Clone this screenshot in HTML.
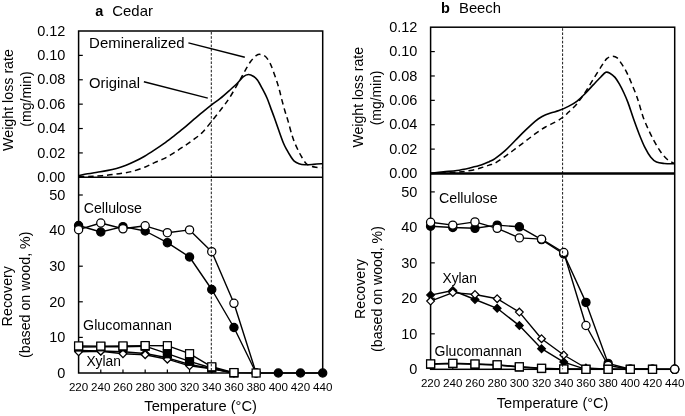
<!DOCTYPE html>
<html><head><meta charset="utf-8"><title>Chart</title>
<style>html,body{margin:0;padding:0;background:#fff;width:685px;height:416px;overflow:hidden;}svg{display:block;font-family:"Liberation Sans",sans-serif;will-change:transform;}</style>
</head><body>
<svg width="685" height="416" viewBox="0 0 685 416" font-family="Liberation Sans, sans-serif" fill="#000">
<rect width="685" height="416" fill="#fff"/>
<text x="95.3" y="16.3" font-size="14.5" text-anchor="start" font-weight="bold">a</text>
<text x="112.3" y="16.3" font-size="14.5" text-anchor="start" textLength="40.6" lengthAdjust="spacingAndGlyphs">Cedar</text>
<rect x="78.6" y="31" width="244.1" height="342" fill="none" stroke="#000" stroke-width="1.5"/>
<line x1="78.6" y1="152.92" x2="82.8" y2="152.92" stroke="#000" stroke-width="1.2"/>
<line x1="78.6" y1="128.53" x2="82.8" y2="128.53" stroke="#000" stroke-width="1.2"/>
<line x1="78.6" y1="104.15" x2="82.8" y2="104.15" stroke="#000" stroke-width="1.2"/>
<line x1="78.6" y1="79.77" x2="82.8" y2="79.77" stroke="#000" stroke-width="1.2"/>
<line x1="78.6" y1="55.38" x2="82.8" y2="55.38" stroke="#000" stroke-width="1.2"/>
<line x1="78.6" y1="337.4" x2="82.8" y2="337.4" stroke="#000" stroke-width="1.2"/>
<line x1="78.6" y1="301.8" x2="82.8" y2="301.8" stroke="#000" stroke-width="1.2"/>
<line x1="78.6" y1="266.2" x2="82.8" y2="266.2" stroke="#000" stroke-width="1.2"/>
<line x1="78.6" y1="230.6" x2="82.8" y2="230.6" stroke="#000" stroke-width="1.2"/>
<line x1="78.6" y1="195" x2="82.8" y2="195" stroke="#000" stroke-width="1.2"/>
<line x1="100.79" y1="373" x2="100.79" y2="369.4" stroke="#000" stroke-width="1.2"/>
<line x1="122.98" y1="373" x2="122.98" y2="369.4" stroke="#000" stroke-width="1.2"/>
<line x1="145.17" y1="373" x2="145.17" y2="369.4" stroke="#000" stroke-width="1.2"/>
<line x1="167.36" y1="373" x2="167.36" y2="369.4" stroke="#000" stroke-width="1.2"/>
<line x1="189.55" y1="373" x2="189.55" y2="369.4" stroke="#000" stroke-width="1.2"/>
<line x1="211.75" y1="373" x2="211.75" y2="369.4" stroke="#000" stroke-width="1.2"/>
<line x1="233.94" y1="373" x2="233.94" y2="369.4" stroke="#000" stroke-width="1.2"/>
<line x1="256.13" y1="373" x2="256.13" y2="369.4" stroke="#000" stroke-width="1.2"/>
<line x1="278.32" y1="373" x2="278.32" y2="369.4" stroke="#000" stroke-width="1.2"/>
<line x1="300.51" y1="373" x2="300.51" y2="369.4" stroke="#000" stroke-width="1.2"/>
<line x1="78.6" y1="177.3" x2="322.7" y2="177.3" stroke="#000" stroke-width="1.6"/>
<text x="65.4" y="182" font-size="14.5" text-anchor="end">0.00</text>
<text x="65.4" y="157.62" font-size="14.5" text-anchor="end">0.02</text>
<text x="65.4" y="133.23" font-size="14.5" text-anchor="end">0.04</text>
<text x="65.4" y="108.85" font-size="14.5" text-anchor="end">0.06</text>
<text x="65.4" y="84.47" font-size="14.5" text-anchor="end">0.08</text>
<text x="65.4" y="60.08" font-size="14.5" text-anchor="end">0.10</text>
<text x="65.4" y="35.7" font-size="14.5" text-anchor="end">0.12</text>
<text x="65.4" y="377.7" font-size="14.5" text-anchor="end">0</text>
<text x="65.4" y="342.1" font-size="14.5" text-anchor="end">10</text>
<text x="65.4" y="306.5" font-size="14.5" text-anchor="end">20</text>
<text x="65.4" y="270.9" font-size="14.5" text-anchor="end">30</text>
<text x="65.4" y="235.3" font-size="14.5" text-anchor="end">40</text>
<text x="65.4" y="199.7" font-size="14.5" text-anchor="end">50</text>
<text x="78.6" y="391" font-size="11.6" text-anchor="middle">220</text>
<text x="100.79" y="391" font-size="11.6" text-anchor="middle">240</text>
<text x="122.98" y="391" font-size="11.6" text-anchor="middle">260</text>
<text x="145.17" y="391" font-size="11.6" text-anchor="middle">280</text>
<text x="167.36" y="391" font-size="11.6" text-anchor="middle">300</text>
<text x="189.55" y="391" font-size="11.6" text-anchor="middle">320</text>
<text x="211.75" y="391" font-size="11.6" text-anchor="middle">340</text>
<text x="233.94" y="391" font-size="11.6" text-anchor="middle">360</text>
<text x="256.13" y="391" font-size="11.6" text-anchor="middle">380</text>
<text x="278.32" y="391" font-size="11.6" text-anchor="middle">400</text>
<text x="300.51" y="391" font-size="11.6" text-anchor="middle">420</text>
<text x="322.7" y="391" font-size="11.6" text-anchor="middle">440</text>
<text x="200.65" y="410.9" font-size="14" text-anchor="middle" textLength="112.6" lengthAdjust="spacingAndGlyphs">Temperature (°C)</text>
<text transform="translate(13.0 100.0) rotate(-90)" font-size="14" text-anchor="middle" textLength="101.8" lengthAdjust="spacingAndGlyphs">Weight loss rate</text>
<text transform="translate(30.6 99.0) rotate(-90)" font-size="14" text-anchor="middle" textLength="55.3" lengthAdjust="spacingAndGlyphs">(mg/min)</text>
<text transform="translate(12.3 296.2) rotate(-90)" font-size="14" text-anchor="middle" textLength="60.4" lengthAdjust="spacingAndGlyphs">Recovery</text>
<text transform="translate(29.5 294.8) rotate(-90)" font-size="14" text-anchor="middle" textLength="126.4" lengthAdjust="spacingAndGlyphs">(based on wood, %)</text>
<path d="M78.6 176.3C80.1 176.33 84.98 176.5 87.6 176.5C90.22 176.5 91.73 176.45 94.3 176.3C96.87 176.15 99.95 175.88 103 175.6C106.05 175.32 109.4 175 112.6 174.6C115.8 174.2 119 173.72 122.2 173.2C125.4 172.68 127.95 172.53 131.8 171.5C135.65 170.47 141.52 168.48 145.3 167C149.08 165.52 151.38 164 154.5 162.6C157.62 161.2 160.83 160.18 164 158.6C167.17 157.02 170.32 155.05 173.5 153.1C176.68 151.15 179.9 149.05 183.1 146.9C186.3 144.75 189.5 142.6 192.7 140.2C195.9 137.8 199.1 135.7 202.3 132.5C205.5 129.3 208.63 125.03 211.9 121C215.17 116.97 218.95 112.18 221.9 108.3C224.85 104.42 226.72 102.2 229.6 97.7C232.48 93.2 236.63 85.78 239.2 81.3C241.77 76.82 243.07 74.15 245 70.8C246.93 67.45 248.88 63.77 250.8 61.2C252.72 58.63 254.9 56.53 256.5 55.4C258.1 54.27 258.95 54.25 260.4 54.4C261.85 54.55 263.6 54.85 265.2 56.3C266.8 57.75 268.57 60.37 270 63.1C271.43 65.83 272.6 69.47 273.8 72.7C275 75.93 276.23 79.48 277.2 82.5C278.17 85.52 278.8 87.82 279.6 90.8C280.4 93.78 281.1 96.98 282 100.4C282.9 103.82 284 107.88 285 111.3C286 114.72 286.87 117.02 288 120.9C289.13 124.78 290.67 130.92 291.8 134.6C292.93 138.28 293.7 140.3 294.8 143C295.9 145.7 297.2 148.38 298.4 150.8C299.6 153.22 300.8 155.48 302 157.5C303.2 159.52 304.28 161.5 305.6 162.9C306.92 164.3 308.18 165.17 309.9 165.9C311.62 166.63 313.77 167 315.9 167.3C318.03 167.6 321.57 167.63 322.7 167.7" fill="none" stroke="#000" stroke-width="1.5" stroke-dasharray="5.6 3.9"/>
<path d="M78.6 175.6C80.1 175.3 84.5 174.37 87.6 173.8C90.7 173.23 94 172.73 97.2 172.2C100.4 171.67 103.58 171.23 106.8 170.6C110.02 169.97 113.28 169.3 116.5 168.4C119.72 167.5 123.02 166.38 126.1 165.2C129.18 164.02 131.92 162.8 135 161.3C138.08 159.8 141.4 158.05 144.6 156.2C147.8 154.35 151 152.28 154.2 150.2C157.4 148.12 160.58 146.02 163.8 143.7C167.02 141.38 170.28 138.8 173.5 136.3C176.72 133.8 179.9 131.35 183.1 128.7C186.3 126.05 189.5 123.13 192.7 120.4C195.9 117.67 199.1 114.93 202.3 112.3C205.5 109.67 208.95 106.87 211.9 104.6C214.85 102.33 217.05 101.07 220 98.7C222.95 96.33 226.72 92.97 229.6 90.4C232.48 87.83 235.05 85.55 237.3 83.3C239.55 81.05 241.23 78.37 243.1 76.9C244.97 75.43 246.73 74.57 248.5 74.5C250.27 74.43 252.22 75.58 253.7 76.5C255.18 77.42 255.98 78.02 257.4 80C258.82 81.98 260.6 85.4 262.2 88.4C263.8 91.4 265.6 94.8 267 98C268.4 101.2 269.4 104.38 270.6 107.6C271.8 110.82 272.9 113.68 274.2 117.3C275.5 120.92 276.87 125.02 278.4 129.3C279.93 133.58 281.97 139.52 283.4 143C284.83 146.48 285.8 147.98 287 150.2C288.2 152.42 289.4 154.48 290.6 156.3C291.8 158.12 292.8 159.87 294.2 161.1C295.6 162.33 297.2 163.1 299 163.7C300.8 164.3 302.58 164.58 305 164.7C307.42 164.82 310.55 164.57 313.5 164.4C316.45 164.23 321.17 163.82 322.7 163.7" fill="none" stroke="#000" stroke-width="1.6"/>
<line x1="188.4" y1="42.9" x2="244.8" y2="57.2" stroke="#000" stroke-width="1.4"/>
<line x1="143.9" y1="81.7" x2="207.8" y2="98.1" stroke="#000" stroke-width="1.4"/>
<text x="89.1" y="47.9" font-size="14" text-anchor="start" textLength="95.6" lengthAdjust="spacingAndGlyphs">Demineralized</text>
<text x="89.1" y="88.3" font-size="14" text-anchor="start" textLength="51" lengthAdjust="spacingAndGlyphs">Original</text>
<polyline points="78.6,350.5 100.79,351 122.98,351.8 145.17,353.5 167.36,357.8 189.55,364.5 211.75,368.5 233.94,373" fill="none" stroke="#000" stroke-width="1.4" stroke-linejoin="round"/>
<polygon points="78.6,346.65 82.45,350.5 78.6,354.35 74.75,350.5" fill="#000" stroke="#000" stroke-width="1.25" stroke-linejoin="miter"/>
<polygon points="100.79,347.15 104.64,351 100.79,354.85 96.94,351" fill="#000" stroke="#000" stroke-width="1.25" stroke-linejoin="miter"/>
<polygon points="122.98,347.95 126.83,351.8 122.98,355.65 119.13,351.8" fill="#000" stroke="#000" stroke-width="1.25" stroke-linejoin="miter"/>
<polygon points="145.17,349.65 149.02,353.5 145.17,357.35 141.32,353.5" fill="#000" stroke="#000" stroke-width="1.25" stroke-linejoin="miter"/>
<polygon points="167.36,353.95 171.21,357.8 167.36,361.65 163.51,357.8" fill="#000" stroke="#000" stroke-width="1.25" stroke-linejoin="miter"/>
<polygon points="189.55,360.65 193.4,364.5 189.55,368.35 185.7,364.5" fill="#000" stroke="#000" stroke-width="1.25" stroke-linejoin="miter"/>
<polygon points="211.75,364.65 215.6,368.5 211.75,372.35 207.9,368.5" fill="#000" stroke="#000" stroke-width="1.25" stroke-linejoin="miter"/>
<polygon points="233.94,369.15 237.79,373 233.94,376.85 230.09,373" fill="#000" stroke="#000" stroke-width="1.25" stroke-linejoin="miter"/>
<polyline points="78.6,351.8 100.79,351.2 122.98,353.75 145.17,354.7 167.36,359.2 189.55,365.8 211.75,368.8 233.94,373" fill="none" stroke="#000" stroke-width="1.4" stroke-linejoin="round"/>
<polygon points="78.6,347.95 82.45,351.8 78.6,355.65 74.75,351.8" fill="#fff" stroke="#000" stroke-width="1.25" stroke-linejoin="miter"/>
<polygon points="100.79,347.35 104.64,351.2 100.79,355.05 96.94,351.2" fill="#fff" stroke="#000" stroke-width="1.25" stroke-linejoin="miter"/>
<polygon points="122.98,349.9 126.83,353.75 122.98,357.6 119.13,353.75" fill="#fff" stroke="#000" stroke-width="1.25" stroke-linejoin="miter"/>
<polygon points="145.17,350.85 149.02,354.7 145.17,358.55 141.32,354.7" fill="#fff" stroke="#000" stroke-width="1.25" stroke-linejoin="miter"/>
<polygon points="167.36,355.35 171.21,359.2 167.36,363.05 163.51,359.2" fill="#fff" stroke="#000" stroke-width="1.25" stroke-linejoin="miter"/>
<polygon points="189.55,361.95 193.4,365.8 189.55,369.65 185.7,365.8" fill="#fff" stroke="#000" stroke-width="1.25" stroke-linejoin="miter"/>
<polygon points="211.75,364.95 215.6,368.8 211.75,372.65 207.9,368.8" fill="#fff" stroke="#000" stroke-width="1.25" stroke-linejoin="miter"/>
<polygon points="233.94,369.15 237.79,373 233.94,376.85 230.09,373" fill="#fff" stroke="#000" stroke-width="1.25" stroke-linejoin="miter"/>
<polyline points="78.6,225.5 100.79,232 122.98,226.6 145.17,231 167.36,242.7 189.55,257 211.75,289.5 233.94,327.5 256.13,373 278.32,373 300.51,373 322.7,373" fill="none" stroke="#000" stroke-width="1.4" stroke-linejoin="round"/>
<polyline points="78.6,229.7 100.79,223 122.98,228.8 145.17,225.8 167.36,232.7 189.55,229.9 211.75,251.7 233.94,303.3 256.13,373" fill="none" stroke="#000" stroke-width="1.4" stroke-linejoin="round"/>
<circle cx="78.6" cy="225.5" r="4.1" fill="#000" stroke="#000" stroke-width="1.25"/>
<circle cx="100.79" cy="232" r="4.1" fill="#000" stroke="#000" stroke-width="1.25"/>
<circle cx="122.98" cy="226.6" r="4.1" fill="#000" stroke="#000" stroke-width="1.25"/>
<circle cx="145.17" cy="231" r="4.1" fill="#000" stroke="#000" stroke-width="1.25"/>
<circle cx="167.36" cy="242.7" r="4.1" fill="#000" stroke="#000" stroke-width="1.25"/>
<circle cx="189.55" cy="257" r="4.1" fill="#000" stroke="#000" stroke-width="1.25"/>
<circle cx="211.75" cy="289.5" r="4.1" fill="#000" stroke="#000" stroke-width="1.25"/>
<circle cx="233.94" cy="327.5" r="4.1" fill="#000" stroke="#000" stroke-width="1.25"/>
<circle cx="256.13" cy="373" r="4.1" fill="#000" stroke="#000" stroke-width="1.25"/>
<circle cx="278.32" cy="373" r="4.1" fill="#000" stroke="#000" stroke-width="1.25"/>
<circle cx="300.51" cy="373" r="4.1" fill="#000" stroke="#000" stroke-width="1.25"/>
<circle cx="322.7" cy="373" r="4.1" fill="#000" stroke="#000" stroke-width="1.25"/>
<circle cx="78.6" cy="229.7" r="4.1" fill="#fff" stroke="#000" stroke-width="1.25"/>
<circle cx="100.79" cy="223" r="4.1" fill="#fff" stroke="#000" stroke-width="1.25"/>
<circle cx="122.98" cy="228.8" r="4.1" fill="#fff" stroke="#000" stroke-width="1.25"/>
<circle cx="145.17" cy="225.8" r="4.1" fill="#fff" stroke="#000" stroke-width="1.25"/>
<circle cx="167.36" cy="232.7" r="4.1" fill="#fff" stroke="#000" stroke-width="1.25"/>
<circle cx="189.55" cy="229.9" r="4.1" fill="#fff" stroke="#000" stroke-width="1.25"/>
<circle cx="211.75" cy="251.7" r="4.1" fill="#fff" stroke="#000" stroke-width="1.25"/>
<circle cx="233.94" cy="303.3" r="4.1" fill="#fff" stroke="#000" stroke-width="1.25"/>
<circle cx="256.13" cy="373" r="4.1" fill="#fff" stroke="#000" stroke-width="1.25"/>
<polyline points="78.6,347 100.79,346.8 122.98,346.8 145.17,346.2 167.36,353.7 189.55,361.3 211.75,368 233.94,373" fill="none" stroke="#000" stroke-width="1.4" stroke-linejoin="round"/>
<rect x="74.6" y="343" width="8" height="8" fill="#000" stroke="#000" stroke-width="1.25"/>
<rect x="96.79" y="342.8" width="8" height="8" fill="#000" stroke="#000" stroke-width="1.25"/>
<rect x="118.98" y="342.8" width="8" height="8" fill="#000" stroke="#000" stroke-width="1.25"/>
<rect x="141.17" y="342.2" width="8" height="8" fill="#000" stroke="#000" stroke-width="1.25"/>
<rect x="163.36" y="349.7" width="8" height="8" fill="#000" stroke="#000" stroke-width="1.25"/>
<rect x="185.55" y="357.3" width="8" height="8" fill="#000" stroke="#000" stroke-width="1.25"/>
<rect x="207.75" y="364" width="8" height="8" fill="#000" stroke="#000" stroke-width="1.25"/>
<rect x="229.94" y="369" width="8" height="8" fill="#000" stroke="#000" stroke-width="1.25"/>
<polyline points="78.6,345.9 100.79,346.1 122.98,345.9 145.17,345.6 167.36,345.7 189.55,353.7 211.75,366.8 233.94,372.6 256.13,373" fill="none" stroke="#000" stroke-width="1.4" stroke-linejoin="round"/>
<rect x="74.6" y="341.9" width="8" height="8" fill="#fff" stroke="#000" stroke-width="1.25"/>
<rect x="96.79" y="342.1" width="8" height="8" fill="#fff" stroke="#000" stroke-width="1.25"/>
<rect x="118.98" y="341.9" width="8" height="8" fill="#fff" stroke="#000" stroke-width="1.25"/>
<rect x="141.17" y="341.6" width="8" height="8" fill="#fff" stroke="#000" stroke-width="1.25"/>
<rect x="163.36" y="341.7" width="8" height="8" fill="#fff" stroke="#000" stroke-width="1.25"/>
<rect x="185.55" y="349.7" width="8" height="8" fill="#fff" stroke="#000" stroke-width="1.25"/>
<rect x="207.75" y="362.8" width="8" height="8" fill="#fff" stroke="#000" stroke-width="1.25"/>
<rect x="229.94" y="368.6" width="8" height="8" fill="#fff" stroke="#000" stroke-width="1.25"/>
<rect x="252.13" y="369" width="8" height="8" fill="#fff" stroke="#000" stroke-width="1.25"/>
<text x="83.8" y="213.2" font-size="14" text-anchor="start" textLength="58.1" lengthAdjust="spacingAndGlyphs">Cellulose</text>
<text x="83.1" y="329.8" font-size="14" text-anchor="start" textLength="88.8" lengthAdjust="spacingAndGlyphs">Glucomannan</text>
<text x="86.4" y="366.2" font-size="14" text-anchor="start" textLength="34.6" lengthAdjust="spacingAndGlyphs">Xylan</text>
<text x="441" y="12.9" font-size="14.5" text-anchor="start" font-weight="bold">b</text>
<text x="459" y="12.9" font-size="14.5" text-anchor="start" textLength="42" lengthAdjust="spacingAndGlyphs">Beech</text>
<rect x="430.6" y="27.2" width="244.1" height="342.1" fill="none" stroke="#000" stroke-width="1.5"/>
<line x1="430.6" y1="149.12" x2="434.8" y2="149.12" stroke="#000" stroke-width="1.2"/>
<line x1="430.6" y1="124.73" x2="434.8" y2="124.73" stroke="#000" stroke-width="1.2"/>
<line x1="430.6" y1="100.35" x2="434.8" y2="100.35" stroke="#000" stroke-width="1.2"/>
<line x1="430.6" y1="75.97" x2="434.8" y2="75.97" stroke="#000" stroke-width="1.2"/>
<line x1="430.6" y1="51.58" x2="434.8" y2="51.58" stroke="#000" stroke-width="1.2"/>
<line x1="430.6" y1="333.82" x2="434.8" y2="333.82" stroke="#000" stroke-width="1.2"/>
<line x1="430.6" y1="298.34" x2="434.8" y2="298.34" stroke="#000" stroke-width="1.2"/>
<line x1="430.6" y1="262.86" x2="434.8" y2="262.86" stroke="#000" stroke-width="1.2"/>
<line x1="430.6" y1="227.38" x2="434.8" y2="227.38" stroke="#000" stroke-width="1.2"/>
<line x1="430.6" y1="191.9" x2="434.8" y2="191.9" stroke="#000" stroke-width="1.2"/>
<line x1="452.79" y1="369.3" x2="452.79" y2="365.7" stroke="#000" stroke-width="1.2"/>
<line x1="474.98" y1="369.3" x2="474.98" y2="365.7" stroke="#000" stroke-width="1.2"/>
<line x1="497.17" y1="369.3" x2="497.17" y2="365.7" stroke="#000" stroke-width="1.2"/>
<line x1="519.36" y1="369.3" x2="519.36" y2="365.7" stroke="#000" stroke-width="1.2"/>
<line x1="541.55" y1="369.3" x2="541.55" y2="365.7" stroke="#000" stroke-width="1.2"/>
<line x1="563.75" y1="369.3" x2="563.75" y2="365.7" stroke="#000" stroke-width="1.2"/>
<line x1="585.94" y1="369.3" x2="585.94" y2="365.7" stroke="#000" stroke-width="1.2"/>
<line x1="608.13" y1="369.3" x2="608.13" y2="365.7" stroke="#000" stroke-width="1.2"/>
<line x1="630.32" y1="369.3" x2="630.32" y2="365.7" stroke="#000" stroke-width="1.2"/>
<line x1="652.51" y1="369.3" x2="652.51" y2="365.7" stroke="#000" stroke-width="1.2"/>
<line x1="430.6" y1="173.5" x2="674.7" y2="173.5" stroke="#000" stroke-width="2.4"/>
<text x="417.4" y="178.2" font-size="14.5" text-anchor="end">0.00</text>
<text x="417.4" y="153.82" font-size="14.5" text-anchor="end">0.02</text>
<text x="417.4" y="129.43" font-size="14.5" text-anchor="end">0.04</text>
<text x="417.4" y="105.05" font-size="14.5" text-anchor="end">0.06</text>
<text x="417.4" y="80.67" font-size="14.5" text-anchor="end">0.08</text>
<text x="417.4" y="56.28" font-size="14.5" text-anchor="end">0.10</text>
<text x="417.4" y="31.9" font-size="14.5" text-anchor="end">0.12</text>
<text x="417.4" y="374" font-size="14.5" text-anchor="end">0</text>
<text x="417.4" y="338.52" font-size="14.5" text-anchor="end">10</text>
<text x="417.4" y="303.04" font-size="14.5" text-anchor="end">20</text>
<text x="417.4" y="267.56" font-size="14.5" text-anchor="end">30</text>
<text x="417.4" y="232.08" font-size="14.5" text-anchor="end">40</text>
<text x="417.4" y="196.6" font-size="14.5" text-anchor="end">50</text>
<text x="430.6" y="387.1" font-size="11.6" text-anchor="middle">220</text>
<text x="452.79" y="387.1" font-size="11.6" text-anchor="middle">240</text>
<text x="474.98" y="387.1" font-size="11.6" text-anchor="middle">260</text>
<text x="497.17" y="387.1" font-size="11.6" text-anchor="middle">280</text>
<text x="519.36" y="387.1" font-size="11.6" text-anchor="middle">300</text>
<text x="541.55" y="387.1" font-size="11.6" text-anchor="middle">320</text>
<text x="563.75" y="387.1" font-size="11.6" text-anchor="middle">340</text>
<text x="585.94" y="387.1" font-size="11.6" text-anchor="middle">360</text>
<text x="608.13" y="387.1" font-size="11.6" text-anchor="middle">380</text>
<text x="630.32" y="387.1" font-size="11.6" text-anchor="middle">400</text>
<text x="652.51" y="387.1" font-size="11.6" text-anchor="middle">420</text>
<text x="674.7" y="387.1" font-size="11.6" text-anchor="middle">440</text>
<text x="552.65" y="408" font-size="14" text-anchor="middle" textLength="111.6" lengthAdjust="spacingAndGlyphs">Temperature (°C)</text>
<text transform="translate(362.7 97.2) rotate(-90)" font-size="14" text-anchor="middle" textLength="100.5" lengthAdjust="spacingAndGlyphs">Weight loss rate</text>
<text transform="translate(381.3 97.9) rotate(-90)" font-size="14" text-anchor="middle" textLength="54.8" lengthAdjust="spacingAndGlyphs">(mg/min)</text>
<text transform="translate(364.9 289.0) rotate(-90)" font-size="14" text-anchor="middle" textLength="60.0" lengthAdjust="spacingAndGlyphs">Recovery</text>
<text transform="translate(382.4 289.0) rotate(-90)" font-size="14" text-anchor="middle" textLength="125.8" lengthAdjust="spacingAndGlyphs">(based on wood, %)</text>
<path d="M430.6 173.4C434.98 173.2 450.27 172.68 456.9 172.2C463.53 171.72 466.37 171.23 470.4 170.5C474.43 169.77 477.97 168.7 481.1 167.8C484.23 166.9 486.88 165.87 489.2 165.1C491.52 164.33 492.35 164.65 495 163.2C497.65 161.75 501.73 158.78 505.1 156.4C508.47 154.02 511.83 151.42 515.2 148.9C518.57 146.38 521.93 143.83 525.3 141.3C528.67 138.77 532.03 136.08 535.4 133.7C538.77 131.32 542.13 128.97 545.5 127C548.87 125.03 552.63 123.58 555.6 121.9C558.57 120.22 561.17 118.5 563.3 116.9C565.43 115.3 566.15 114.47 568.4 112.3C570.65 110.13 573.98 107.27 576.8 103.9C579.62 100.53 582.48 96.32 585.3 92.1C588.12 87.88 590.9 83.08 593.7 78.6C596.5 74.12 599.87 68.57 602.1 65.2C604.33 61.83 605.4 59.88 607.1 58.4C608.8 56.92 610.62 56.38 612.3 56.3C613.98 56.22 615.67 56.67 617.2 57.9C618.73 59.13 620.18 61.78 621.5 63.7C622.82 65.62 623.9 67.25 625.1 69.4C626.3 71.55 627.5 73.95 628.7 76.6C629.9 79.25 631.1 82.4 632.3 85.3C633.5 88.2 634.82 91.12 635.9 94C636.98 96.88 637.6 98.78 638.8 102.6C640 106.42 641.43 112.27 643.1 116.9C644.77 121.53 646.88 126.23 648.8 130.4C650.72 134.57 652.67 138.38 654.6 141.9C656.53 145.42 658.32 148.62 660.4 151.5C662.48 154.38 664.72 157.17 667.1 159.2C669.48 161.23 673.43 162.95 674.7 163.7" fill="none" stroke="#000" stroke-width="1.5" stroke-dasharray="5.6 3.9"/>
<path d="M430.6 173.2C432.75 172.97 439.12 172.25 443.5 171.8C447.88 171.35 452.42 171.17 456.9 170.5C461.38 169.83 466.37 168.7 470.4 167.8C474.43 166.9 477.97 166.12 481.1 165.1C484.23 164.08 486.88 162.78 489.2 161.7C491.52 160.62 492.35 160.45 495 158.6C497.65 156.75 501.73 153.62 505.1 150.6C508.47 147.58 511.83 143.87 515.2 140.5C518.57 137.13 521.93 133.63 525.3 130.4C528.67 127.17 532.6 123.42 535.4 121.1C538.2 118.78 539.57 117.85 542.1 116.5C544.63 115.15 547.78 113.98 550.6 113C553.42 112.02 556.03 111.7 559 110.6C561.97 109.5 565.43 107.95 568.4 106.4C571.37 104.85 573.98 103.47 576.8 101.3C579.62 99.13 582.48 96.22 585.3 93.4C588.12 90.58 591.15 87.1 593.7 84.4C596.25 81.7 598.58 79.22 600.6 77.2C602.62 75.18 604.25 72.97 605.8 72.3C607.35 71.63 608.37 72.35 609.9 73.2C611.43 74.05 613.43 75.62 615 77.4C616.57 79.18 617.85 81.38 619.3 83.9C620.75 86.42 622.25 89.38 623.7 92.5C625.15 95.62 626.37 98.22 628 102.6C629.63 106.98 631.63 113.53 633.5 118.8C635.37 124.07 637.28 129.38 639.2 134.2C641.12 139.02 643.07 143.85 645 147.7C646.93 151.55 648.88 154.9 650.8 157.3C652.72 159.7 654.27 161.07 656.5 162.1C658.73 163.13 661.17 163.23 664.2 163.5C667.23 163.77 672.95 163.67 674.7 163.7" fill="none" stroke="#000" stroke-width="1.6"/>
<polyline points="430.6,295.1 452.79,290.5 474.98,299.5 497.17,308.3 519.36,325.6 541.55,348.7 563.75,362.1 585.94,369.3 608.13,369.3" fill="none" stroke="#000" stroke-width="1.4" stroke-linejoin="round"/>
<polygon points="430.6,291.25 434.45,295.1 430.6,298.95 426.75,295.1" fill="#000" stroke="#000" stroke-width="1.25" stroke-linejoin="miter"/>
<polygon points="452.79,286.65 456.64,290.5 452.79,294.35 448.94,290.5" fill="#000" stroke="#000" stroke-width="1.25" stroke-linejoin="miter"/>
<polygon points="474.98,295.65 478.83,299.5 474.98,303.35 471.13,299.5" fill="#000" stroke="#000" stroke-width="1.25" stroke-linejoin="miter"/>
<polygon points="497.17,304.45 501.02,308.3 497.17,312.15 493.32,308.3" fill="#000" stroke="#000" stroke-width="1.25" stroke-linejoin="miter"/>
<polygon points="519.36,321.75 523.21,325.6 519.36,329.45 515.51,325.6" fill="#000" stroke="#000" stroke-width="1.25" stroke-linejoin="miter"/>
<polygon points="541.55,344.85 545.4,348.7 541.55,352.55 537.7,348.7" fill="#000" stroke="#000" stroke-width="1.25" stroke-linejoin="miter"/>
<polygon points="563.75,358.25 567.6,362.1 563.75,365.95 559.9,362.1" fill="#000" stroke="#000" stroke-width="1.25" stroke-linejoin="miter"/>
<polygon points="585.94,365.45 589.79,369.3 585.94,373.15 582.09,369.3" fill="#000" stroke="#000" stroke-width="1.25" stroke-linejoin="miter"/>
<polygon points="608.13,365.45 611.98,369.3 608.13,373.15 604.28,369.3" fill="#000" stroke="#000" stroke-width="1.25" stroke-linejoin="miter"/>
<polyline points="430.6,301.1 452.79,292.6 474.98,294.5 497.17,298.7 519.36,312.1 541.55,338.7 563.75,355 585.94,368 608.13,369.3" fill="none" stroke="#000" stroke-width="1.4" stroke-linejoin="round"/>
<polygon points="430.6,297.25 434.45,301.1 430.6,304.95 426.75,301.1" fill="#fff" stroke="#000" stroke-width="1.25" stroke-linejoin="miter"/>
<polygon points="452.79,288.75 456.64,292.6 452.79,296.45 448.94,292.6" fill="#fff" stroke="#000" stroke-width="1.25" stroke-linejoin="miter"/>
<polygon points="474.98,290.65 478.83,294.5 474.98,298.35 471.13,294.5" fill="#fff" stroke="#000" stroke-width="1.25" stroke-linejoin="miter"/>
<polygon points="497.17,294.85 501.02,298.7 497.17,302.55 493.32,298.7" fill="#fff" stroke="#000" stroke-width="1.25" stroke-linejoin="miter"/>
<polygon points="519.36,308.25 523.21,312.1 519.36,315.95 515.51,312.1" fill="#fff" stroke="#000" stroke-width="1.25" stroke-linejoin="miter"/>
<polygon points="541.55,334.85 545.4,338.7 541.55,342.55 537.7,338.7" fill="#fff" stroke="#000" stroke-width="1.25" stroke-linejoin="miter"/>
<polygon points="563.75,351.15 567.6,355 563.75,358.85 559.9,355" fill="#fff" stroke="#000" stroke-width="1.25" stroke-linejoin="miter"/>
<polygon points="585.94,364.15 589.79,368 585.94,371.85 582.09,368" fill="#fff" stroke="#000" stroke-width="1.25" stroke-linejoin="miter"/>
<polygon points="608.13,365.45 611.98,369.3 608.13,373.15 604.28,369.3" fill="#fff" stroke="#000" stroke-width="1.25" stroke-linejoin="miter"/>
<polyline points="430.6,226.2 452.79,227.5 474.98,228.3 497.17,225.1 519.36,226.8 541.55,239.6 563.75,254 585.94,302.4 608.13,363.4 630.32,369.3 652.51,369.3 674.7,369.3" fill="none" stroke="#000" stroke-width="1.4" stroke-linejoin="round"/>
<polyline points="430.6,222.3 452.79,225.1 474.98,221.9 497.17,228.3 519.36,237.9 541.55,239.1 563.75,252.5 585.94,325.5 608.13,365.5 630.32,369.3 652.51,369.3 674.7,369.3" fill="none" stroke="#000" stroke-width="1.4" stroke-linejoin="round"/>
<circle cx="430.6" cy="226.2" r="4.1" fill="#000" stroke="#000" stroke-width="1.25"/>
<circle cx="452.79" cy="227.5" r="4.1" fill="#000" stroke="#000" stroke-width="1.25"/>
<circle cx="474.98" cy="228.3" r="4.1" fill="#000" stroke="#000" stroke-width="1.25"/>
<circle cx="497.17" cy="225.1" r="4.1" fill="#000" stroke="#000" stroke-width="1.25"/>
<circle cx="519.36" cy="226.8" r="4.1" fill="#000" stroke="#000" stroke-width="1.25"/>
<circle cx="541.55" cy="239.6" r="4.1" fill="#000" stroke="#000" stroke-width="1.25"/>
<circle cx="563.75" cy="254" r="4.1" fill="#000" stroke="#000" stroke-width="1.25"/>
<circle cx="585.94" cy="302.4" r="4.1" fill="#000" stroke="#000" stroke-width="1.25"/>
<circle cx="608.13" cy="363.4" r="4.1" fill="#000" stroke="#000" stroke-width="1.25"/>
<circle cx="630.32" cy="369.3" r="4.1" fill="#000" stroke="#000" stroke-width="1.25"/>
<circle cx="652.51" cy="369.3" r="4.1" fill="#000" stroke="#000" stroke-width="1.25"/>
<circle cx="674.7" cy="369.3" r="4.1" fill="#000" stroke="#000" stroke-width="1.25"/>
<circle cx="430.6" cy="222.3" r="4.1" fill="#fff" stroke="#000" stroke-width="1.25"/>
<circle cx="452.79" cy="225.1" r="4.1" fill="#fff" stroke="#000" stroke-width="1.25"/>
<circle cx="474.98" cy="221.9" r="4.1" fill="#fff" stroke="#000" stroke-width="1.25"/>
<circle cx="497.17" cy="228.3" r="4.1" fill="#fff" stroke="#000" stroke-width="1.25"/>
<circle cx="519.36" cy="237.9" r="4.1" fill="#fff" stroke="#000" stroke-width="1.25"/>
<circle cx="541.55" cy="239.1" r="4.1" fill="#fff" stroke="#000" stroke-width="1.25"/>
<circle cx="563.75" cy="252.5" r="4.1" fill="#fff" stroke="#000" stroke-width="1.25"/>
<circle cx="585.94" cy="325.5" r="4.1" fill="#fff" stroke="#000" stroke-width="1.25"/>
<circle cx="608.13" cy="365.5" r="4.1" fill="#fff" stroke="#000" stroke-width="1.25"/>
<circle cx="630.32" cy="369.3" r="4.1" fill="#fff" stroke="#000" stroke-width="1.25"/>
<circle cx="652.51" cy="369.3" r="4.1" fill="#fff" stroke="#000" stroke-width="1.25"/>
<circle cx="674.7" cy="369.3" r="4.1" fill="#fff" stroke="#000" stroke-width="1.25"/>
<polyline points="430.6,364.2 452.79,363.6 474.98,364.3 497.17,365.1 519.36,367 541.55,368.5 563.75,369.1 585.94,369.3 608.13,369.3 630.32,369.3 652.51,369.3" fill="none" stroke="#000" stroke-width="1.4" stroke-linejoin="round"/>
<rect x="426.6" y="360.2" width="8" height="8" fill="#000" stroke="#000" stroke-width="1.25"/>
<rect x="448.79" y="359.6" width="8" height="8" fill="#000" stroke="#000" stroke-width="1.25"/>
<rect x="470.98" y="360.3" width="8" height="8" fill="#000" stroke="#000" stroke-width="1.25"/>
<rect x="493.17" y="361.1" width="8" height="8" fill="#000" stroke="#000" stroke-width="1.25"/>
<rect x="515.36" y="363" width="8" height="8" fill="#000" stroke="#000" stroke-width="1.25"/>
<rect x="537.55" y="364.5" width="8" height="8" fill="#000" stroke="#000" stroke-width="1.25"/>
<rect x="559.75" y="365.1" width="8" height="8" fill="#000" stroke="#000" stroke-width="1.25"/>
<rect x="581.94" y="365.3" width="8" height="8" fill="#000" stroke="#000" stroke-width="1.25"/>
<rect x="604.13" y="365.3" width="8" height="8" fill="#000" stroke="#000" stroke-width="1.25"/>
<rect x="626.32" y="365.3" width="8" height="8" fill="#000" stroke="#000" stroke-width="1.25"/>
<rect x="648.51" y="365.3" width="8" height="8" fill="#000" stroke="#000" stroke-width="1.25"/>
<polyline points="430.6,363.9 452.79,363.3 474.98,364 497.17,364.8 519.36,366.8 541.55,368.3 563.75,369 585.94,369.3 608.13,369.3 630.32,369.3 652.51,369.3" fill="none" stroke="#000" stroke-width="1.4" stroke-linejoin="round"/>
<rect x="426.6" y="359.9" width="8" height="8" fill="#fff" stroke="#000" stroke-width="1.25"/>
<rect x="448.79" y="359.3" width="8" height="8" fill="#fff" stroke="#000" stroke-width="1.25"/>
<rect x="470.98" y="360" width="8" height="8" fill="#fff" stroke="#000" stroke-width="1.25"/>
<rect x="493.17" y="360.8" width="8" height="8" fill="#fff" stroke="#000" stroke-width="1.25"/>
<rect x="515.36" y="362.8" width="8" height="8" fill="#fff" stroke="#000" stroke-width="1.25"/>
<rect x="537.55" y="364.3" width="8" height="8" fill="#fff" stroke="#000" stroke-width="1.25"/>
<rect x="559.75" y="365" width="8" height="8" fill="#fff" stroke="#000" stroke-width="1.25"/>
<rect x="581.94" y="365.3" width="8" height="8" fill="#fff" stroke="#000" stroke-width="1.25"/>
<rect x="604.13" y="365.3" width="8" height="8" fill="#fff" stroke="#000" stroke-width="1.25"/>
<rect x="626.32" y="365.3" width="8" height="8" fill="#fff" stroke="#000" stroke-width="1.25"/>
<rect x="648.51" y="365.3" width="8" height="8" fill="#fff" stroke="#000" stroke-width="1.25"/>
<circle cx="674.7" cy="369.3" r="4.1" fill="#fff" stroke="#000" stroke-width="1.25"/>
<text x="439" y="203.1" font-size="14" text-anchor="start" textLength="58.6" lengthAdjust="spacingAndGlyphs">Cellulose</text>
<text x="434.6" y="355.6" font-size="14" text-anchor="start" textLength="87.3" lengthAdjust="spacingAndGlyphs">Glucomannan</text>
<text x="442.5" y="283.2" font-size="14" text-anchor="start" textLength="34.4" lengthAdjust="spacingAndGlyphs">Xylan</text>
<line x1="211.3" y1="32" x2="211.3" y2="373" stroke="#000" stroke-width="0.9" stroke-dasharray="2.6 1.6"/>
<line x1="562.6" y1="28.2" x2="562.6" y2="369.3" stroke="#000" stroke-width="0.9" stroke-dasharray="2.6 1.6"/>
</svg>
</body></html>
